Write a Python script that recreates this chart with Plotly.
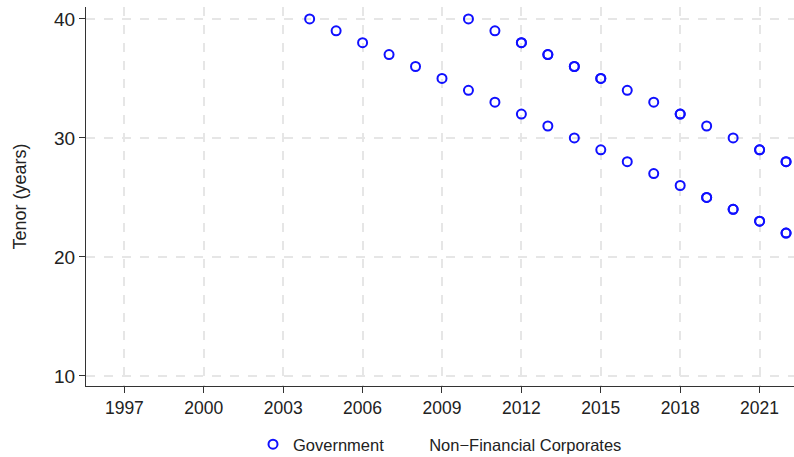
import plotly.graph_objects as go

# Bond issuance tenors by year (duplicates are repeated issues at the same tenor)
gov_years = [2004, 2005, 2006, 2007, 2008, 2009, 2010, 2011, 2012, 2013, 2014, 2015,
             2016, 2017, 2018, 2019, 2020, 2021, 2022,
             2010, 2011, 2012, 2013, 2014, 2015, 2016, 2017, 2018, 2019, 2020, 2021, 2022,
             2012, 2013, 2014, 2015, 2018, 2021, 2022, 2019, 2020, 2021, 2022]
gov_tenor = [40, 39, 38, 37, 36, 35, 34, 33, 32, 31, 30, 29,
             28, 27, 26, 25, 24, 23, 22,
             40, 39, 38, 37, 36, 35, 34, 33, 32, 31, 30, 29, 28,
             38, 37, 36, 35, 32, 29, 28, 25, 24, 23, 22]
# no corporate issues in this window
nfc_years = [None]
nfc_tenor = [None]

x_ticks = [1997, 2000, 2003, 2006, 2009, 2012, 2015, 2018, 2021]
y_ticks = [10, 20, 30, 40]

FONT = "Liberation Sans, Arial, Helvetica, sans-serif"

fig = go.Figure()
fig.add_trace(go.Scatter(
    x=gov_years, y=gov_tenor, mode="markers", name="Government",
    marker=dict(symbol="circle-open", size=9, color="#1010ff",
                line=dict(width=2, color="#1010ff")),
))
fig.add_trace(go.Scatter(
    x=nfc_years, y=nfc_tenor, mode="markers", name="Non\u2212Financial Corporates",
    showlegend=True,
    marker=dict(symbol="circle-open", size=9, color="rgba(0,0,0,0)",
                line=dict(width=2, color="rgba(0,0,0,0)")),
))

fig.update_layout(
    width=794, height=457,
    margin=dict(l=86, r=0, t=7, b=71, autoexpand=False),
    paper_bgcolor="white", plot_bgcolor="white",
    font=dict(family=FONT, size=17, color="#222222"),
    showlegend=True,
    legend=dict(orientation="h", x=0.5, xanchor="center", y=-0.108, yanchor="top",
                font=dict(size=16.5), itemwidth=30, tracegroupgap=0),
)
fig.update_xaxes(
    range=[1995.55, 2022.3], tickvals=x_ticks, ticktext=[str(v) for v in x_ticks],
    showline=True, linecolor="#333333", linewidth=1.2,
    ticks="outside", ticklen=6, tickcolor="#333333",
    showgrid=True, gridcolor="#e6e6e6", griddash="dash", gridwidth=1.5,
    zeroline=False, tickfont=dict(size=17.5),
)
fig.update_yaxes(
    range=[9.15, 41], tickvals=y_ticks,
    showline=True, linecolor="#333333", linewidth=1.2,
    ticks="outside", ticklen=6, tickcolor="#333333",
    showgrid=True, gridcolor="#e6e6e6", griddash="dash", gridwidth=1.5,
    zeroline=False, tickfont=dict(size=19),
    title=dict(text="Tenor (years)", font=dict(size=18), standoff=22),
)

fig.write_html("out.html")
